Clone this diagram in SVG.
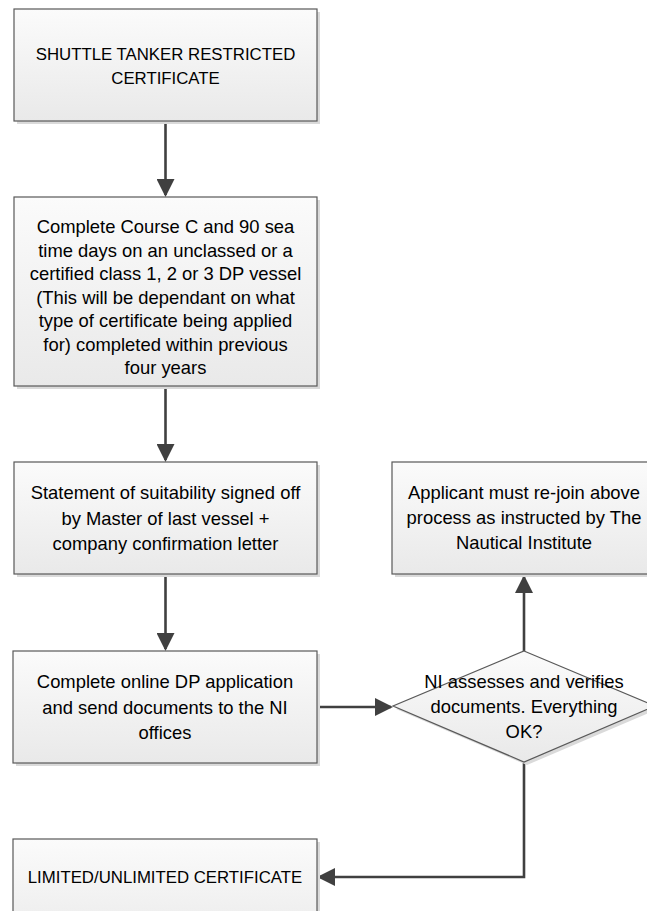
<svg xmlns="http://www.w3.org/2000/svg" width="647" height="911" viewBox="0 0 647 911">
<defs>
<linearGradient id="fillGrad" x1="0" y1="0" x2="0" y2="1">
<stop offset="0" stop-color="#fbfbfb"/>
<stop offset="1" stop-color="#e9e9e9"/>
</linearGradient>
<marker id="arrow" markerUnits="userSpaceOnUse" markerWidth="18" markerHeight="18" refX="16" refY="9" orient="auto" viewBox="0 0 18 18">
<path d="M0,0 L18,9 L0,18 z" fill="#404040"/>
</marker>
</defs>
<style>
.box{fill:url(#fillGrad);stroke:#595959;stroke-width:1.2}
.shadow{fill:#dadada}
.lbl{font-family:"Liberation Sans",Arial,sans-serif;font-size:18.4px;fill:#000;text-anchor:middle}
.caps{font-size:16.8px}
.conn{fill:none;stroke:#404040;stroke-width:2.6}
</style>
<rect width="647" height="911" fill="#ffffff"/>

<g id="connectors">
<line class="conn" x1="165.5" y1="121" x2="165.5" y2="195" marker-end="url(#arrow)"/>
<line class="conn" x1="165.5" y1="386" x2="165.5" y2="460" marker-end="url(#arrow)"/>
<line class="conn" x1="165.5" y1="574" x2="165.5" y2="649" marker-end="url(#arrow)"/>
<line class="conn" x1="317" y1="707" x2="391" y2="707" marker-end="url(#arrow)"/>
<line class="conn" x1="524" y1="651" x2="524" y2="577" marker-end="url(#arrow)"/>
<polyline class="conn" points="524,762 524,877 319,877" marker-end="url(#arrow)"/>
</g>

<g id="node-shuttle">
<rect class="shadow" x="17" y="12" width="303" height="112"/>
<rect class="box" x="14" y="9" width="303" height="112"/>
<text class="lbl caps" x="165.5" y="59.5">SHUTTLE TANKER RESTRICTED</text>
<text class="lbl caps" x="165.5" y="84">CERTIFICATE</text>
</g>

<g id="node-course">
<rect class="shadow" x="17" y="200" width="303" height="189"/>
<rect class="box" x="14" y="197" width="303" height="189"/>
<text class="lbl" x="165.5" y="233">Complete Course C and 90 sea</text>
<text class="lbl" x="165.5" y="256.5">time days on an unclassed or a</text>
<text class="lbl" x="165.5" y="280">certified class 1, 2 or 3 DP vessel</text>
<text class="lbl" x="165.5" y="303.5">(This will be dependant on what</text>
<text class="lbl" x="165.5" y="327">type of certificate being applied</text>
<text class="lbl" x="165.5" y="350.5">for) completed within previous</text>
<text class="lbl" x="165.5" y="374">four years</text>
</g>

<g id="node-statement">
<rect class="shadow" x="17" y="465" width="303" height="112"/>
<rect class="box" x="14" y="462" width="303" height="112"/>
<text class="lbl" x="165.5" y="499">Statement of suitability signed off</text>
<text class="lbl" x="165.5" y="524.5">by Master of last vessel +</text>
<text class="lbl" x="165.5" y="550">company confirmation letter</text>
</g>

<g id="node-online">
<rect class="shadow" x="16" y="654" width="304" height="112"/>
<rect class="box" x="13" y="651" width="304" height="112"/>
<text class="lbl" x="165" y="688">Complete online DP application</text>
<text class="lbl" x="165" y="713.5">and send documents to the NI</text>
<text class="lbl" x="165" y="739">offices</text>
</g>

<g id="node-rejoin">
<rect class="shadow" x="395" y="465" width="264" height="112"/>
<rect class="box" x="392" y="462" width="264" height="112"/>
<text class="lbl" x="524" y="499">Applicant must re-join above</text>
<text class="lbl" x="524" y="524">process as instructed by The</text>
<text class="lbl" x="524" y="549">Nautical Institute</text>
</g>

<g id="node-decision">
<polygon class="shadow" points="527,654 658,709 527,765 396,709"/>
<polygon class="box" points="524,651 655,706 524,762 393,706"/>
<text class="lbl" x="524" y="688">NI assesses and verifies</text>
<text class="lbl" x="524" y="713">documents. Everything</text>
<text class="lbl" x="524" y="738">OK?</text>
</g>

<g id="node-certificate">
<rect class="shadow" x="16" y="842" width="304" height="112"/>
<rect class="box" x="13" y="839" width="304" height="112"/>
<text class="lbl caps" x="165" y="883">LIMITED/UNLIMITED CERTIFICATE</text>
</g>
</svg>
